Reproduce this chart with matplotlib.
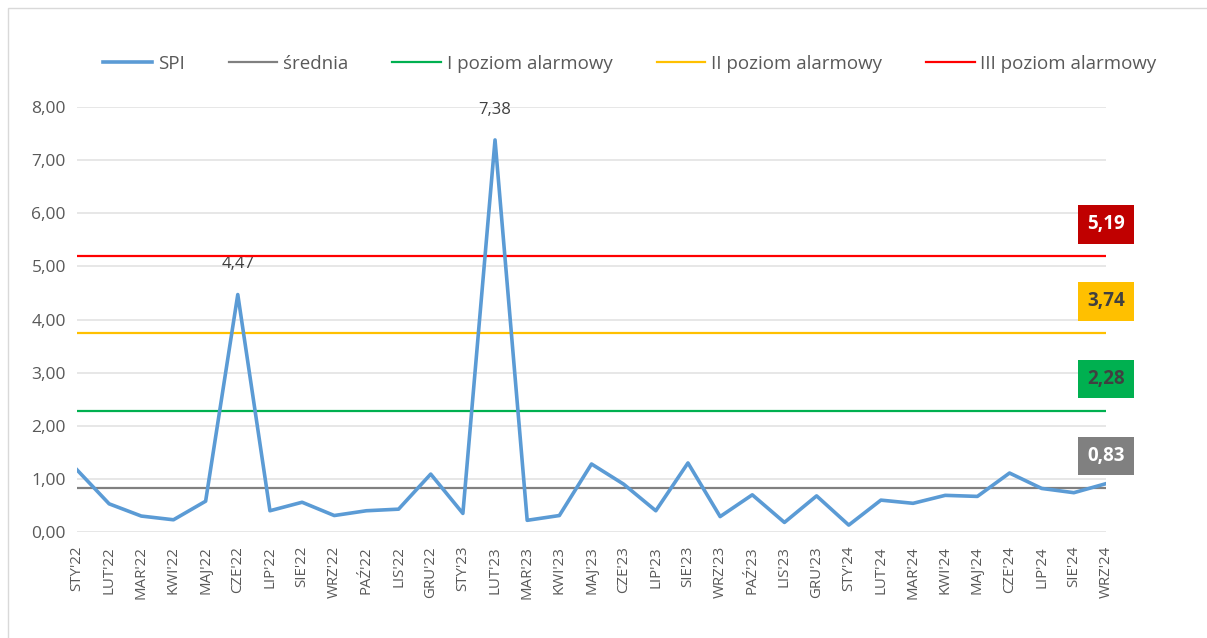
import matplotlib.pyplot as plt
from matplotlib.patches import Rectangle

months = ["STY'22", "LUT'22", "MAR'22", "KWI'22", "MAJ'22", "CZE'22", "LIP'22", "SIE'22",
          "WRZ'22", "PAŹ'22", "LIS'22", "GRU'22", "STY'23", "LUT'23", "MAR'23", "KWI'23",
          "MAJ'23", "CZE'23", "LIP'23", "SIE'23", "WRZ'23", "PAŹ'23", "LIS'23", "GRU'23",
          "STY'24", "LUT'24", "MAR'24", "KWI'24", "MAJ'24", "CZE'24", "LIP'24", "SIE'24", "WRZ'24"]
spi = [1.17, 0.53, 0.30, 0.23, 0.58, 4.47, 0.40, 0.56, 0.31, 0.40, 0.43, 1.09, 0.35, 7.38,
       0.22, 0.31, 1.28, 0.90, 0.40, 1.30, 0.29, 0.70, 0.18, 0.68, 0.13, 0.60, 0.54, 0.69,
       0.67, 1.11, 0.82, 0.74, 0.91]
srednia = 0.83
poziom1 = 2.28
poziom2 = 3.74
poziom3 = 5.19
peak_labels = {5: "4,47", 13: "7,38"}

plt.rcParams['font.family'] = ['Open Sans', 'DejaVu Sans']
txt = '#595959'

fig = plt.figure(figsize=(12.07, 6.38), dpi=100)
ax = fig.add_axes([77/1207, 1-532/638, (1106-77)/1207, (532-107)/638])

x = list(range(len(months)))
ax.plot(x, spi, color='#5B9BD5', lw=2.6, label='SPI', zorder=5, solid_joinstyle='round')
ax.plot(x, [srednia]*len(x), color='#808080', lw=1.6, label='średnia', zorder=4)
ax.plot(x, [poziom1]*len(x), color='#00B050', lw=1.6, label='I poziom alarmowy', zorder=4)
ax.plot(x, [poziom2]*len(x), color='#FFC000', lw=1.6, label='II poziom alarmowy', zorder=4)
ax.plot(x, [poziom3]*len(x), color='#FF0000', lw=1.6, label='III poziom alarmowy', zorder=4)

# etykiety szczytów
for i, s in peak_labels.items():
    ax.annotate(s, (i, spi[i]), xytext=(0, 16), textcoords='offset points',
                ha='center', va='bottom', fontsize=12, color='#404040')

# wartości poziomów w ramkach
boxes = [(srednia, '0,83', '#808080', 'white'),
         (poziom1, '2,28', '#00B050', '#404040'),
         (poziom2, '3,74', '#FFC000', '#404040'),
         (poziom3, '5,19', '#C00000', 'white')]
for val, s, bg, fg in boxes:
    ax.annotate(s, (x[-1], val), xytext=(0, 23), textcoords='offset points',
                ha='center', va='center', fontsize=13.5, fontweight='bold', color=fg,
                bbox=dict(boxstyle='square,pad=0.5', fc=bg, ec='none'), zorder=6,
                annotation_clip=False)

ax.set_xlim(0, len(months)-1)
ax.set_ylim(0, 8)
ax.set_yticks(range(0, 9))
ax.set_yticklabels([f'{v},00' for v in range(0, 9)], fontsize=12.5, color=txt)
ax.set_xticks(x)
ax.set_xticklabels(months, rotation=90, fontsize=10.8, color=txt)
ax.tick_params(length=0, pad=8)
ax.tick_params(axis='x', pad=10)
ax.grid(axis='y', color='#E3E3E3', lw=1.2)
ax.set_axisbelow(True)
for sp in ax.spines.values():
    sp.set_visible(False)

leg = fig.legend(loc='center', bbox_to_anchor=(0.522, 1-64/638), ncol=5, frameon=False,
                 fontsize=13.5, handlelength=2.6, handletextpad=0.3, columnspacing=2.35)
for t in leg.get_texts():
    t.set_color(txt)

fig.patches.append(Rectangle((8/1207, -0.1), 1.2, 1.1 - 8/638, transform=fig.transFigure,
                             fill=False, ec='#D9D9D9', lw=1.0))

fig.savefig('out.png', dpi=100)
